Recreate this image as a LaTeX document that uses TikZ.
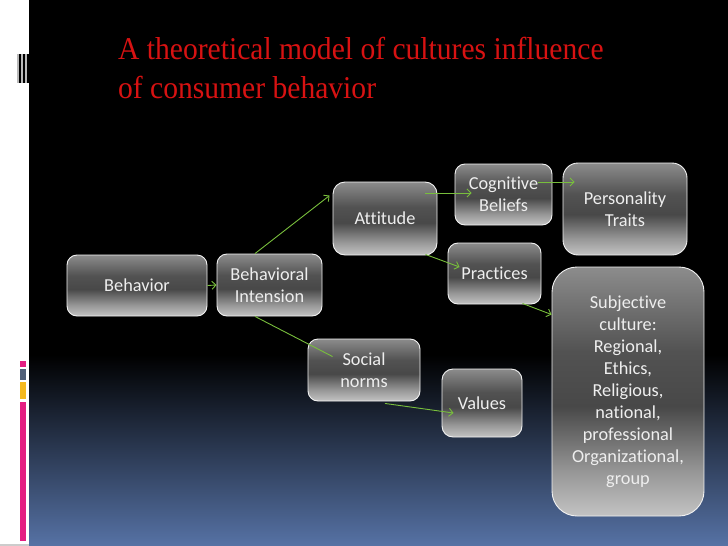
\documentclass[tikz,border=0pt]{standalone}
\usepackage{fontspec}
\usepackage{graphicx}
\usetikzlibrary{arrows.meta}
\setmainfont{Carlito}[Ligatures={NoCommon}]
\newfontfamily\titlefont{Liberation Serif}
\definecolor{titlered}{RGB}{215,18,18}
\definecolor{arrgreen}{RGB}{120,190,60}
\definecolor{txtgray}{RGB}{238,238,238}
\definecolor{bgblue}{RGB}{86,114,165}
\definecolor{barpink}{RGB}{228,30,130}
\definecolor{barslate}{RGB}{80,95,120}
\definecolor{baryellow}{RGB}{245,185,30}
\definecolor{gA}{RGB}{195,195,195}
\definecolor{gB}{RGB}{150,150,150}
\definecolor{gC}{RGB}{72,72,72}
\definecolor{gD}{RGB}{82,82,82}
\definecolor{gE}{RGB}{140,140,140}
\pgfdeclareverticalshading{glossy}{100bp}{color(0bp)=(gA); color(25bp)=(gA); color(34bp)=(gB); color(47bp)=(gC); color(58bp)=(gD); color(75bp)=(gE); color(100bp)=(gE)}
\tikzset{
  box/.style={shade, shading=glossy, draw=white!90!gray, line width=0.9pt,
    text=txtgray, align=center, inner sep=0pt,
    font=\fontsize{18.3}{22}\selectfont},
  arr/.style={draw=arrgreen, line width=0.9pt, -{Straight Barb[length=4pt,width=8pt]}},
  plainline/.style={draw=arrgreen, line width=0.9pt},
  titletext/.style={text=titlered, anchor=base west, inner sep=0pt,
    font=\titlefont\fontsize{31.7}{39}\selectfont}
}
\begin{document}
\begin{tikzpicture}[x=1pt,y=-1pt]
\useasboundingbox (0,0) rectangle (728,546);
% background
\fill[black] (29,0) rectangle (728,356);
\shade[top color=black, bottom color=bgblue] (29,355) rectangle (728,546);
\fill[white] (0,0) rectangle (29,546);
\fill[gray!40] (0,544) rectangle (29,546);
% top-left stripes
\fill[black] (17,54) rectangle (29,83);
\fill[gray!55] (17,54) rectangle (18.8,83);
\fill[gray!55] (21,54) rectangle (22.8,83);
\fill[gray!55] (25,54) rectangle (26.6,83);
% left coloured bars
\fill[barpink] (20,361) rectangle (26,367);
\fill[barslate] (20,368.5) rectangle (26,380);
\fill[baryellow] (20,382) rectangle (26,399);
\fill[barpink] (20,402) rectangle (26,541);
% title
\node[titletext] (t1) at (118,59) {\scalebox{0.933}[1]{A theoretical model of cultures influence}};
\node[titletext] (t2) at (118,98) {\scalebox{0.933}[1]{of consumer behavior}};
% boxes
\node[box, minimum width=140pt, minimum height=61pt, rounded corners=10pt] (beh) at (137,285.5) {Behavior};
\node[box, minimum width=105pt, minimum height=62pt, rounded corners=10pt] (bi) at (269.5,285) {Behavioral\\Intension};
\node[box, minimum width=104pt, minimum height=73pt, rounded corners=12pt] (att) at (385,218.5) {Attitude};
\node[box, minimum width=97pt, minimum height=61pt, rounded corners=10pt] (cog) at (503.5,194.5) {Cognitive\\Beliefs};
\node[box, minimum width=124pt, minimum height=92pt, rounded corners=15pt] (per) at (625,209) {Personality\\Traits};
\node[box, minimum width=93pt, minimum height=61pt, rounded corners=10pt] (pra) at (494.5,273.5) {Practices};
\node[box, minimum width=152pt, minimum height=249pt, rounded corners=25pt] (sub) at (628,391.5) {Subjective\\culture:\\Regional,\\Ethics,\\Religious,\\national,\\professional\\Organizational,\\group};
\node[box, minimum width=112pt, minimum height=62pt, rounded corners=10pt] (soc) at (364,370) {Social\\norms};
\node[box, minimum width=80pt, minimum height=68pt, rounded corners=11pt] (val) at (482,403) {Values};
% connectors
\draw[arr] (beh.east) -- (bi.west);
\draw[arr] ([xshift=-14.5pt]bi.north) -- ([xshift=-3pt,yshift=-14pt]att.north west);
\draw[plainline] ([xshift=-14.5pt]bi.south) -- ([xshift=25pt,yshift=-18pt]soc.north west);
\draw[arr] ([xshift=-12pt,yshift=25.5pt]att.east) -- ([xshift=17pt,yshift=1.5pt]cog.west);
\draw[arr] ([xshift=-12pt,yshift=1pt]att.south east) -- ([xshift=12pt,yshift=6.5pt]pra.west);
\draw[arr] ([xshift=-14pt,yshift=12.5pt]cog.east) -- ([xshift=12pt,yshift=27pt]per.west);
\draw[arr] ([xshift=-19pt,yshift=1pt]pra.south east) -- ([yshift=-48pt]sub.north west);
\draw[arr] ([xshift=21pt,yshift=-2pt]soc.south) -- ([xshift=12pt,yshift=-10pt]val.west);
\end{tikzpicture}
\end{document}
